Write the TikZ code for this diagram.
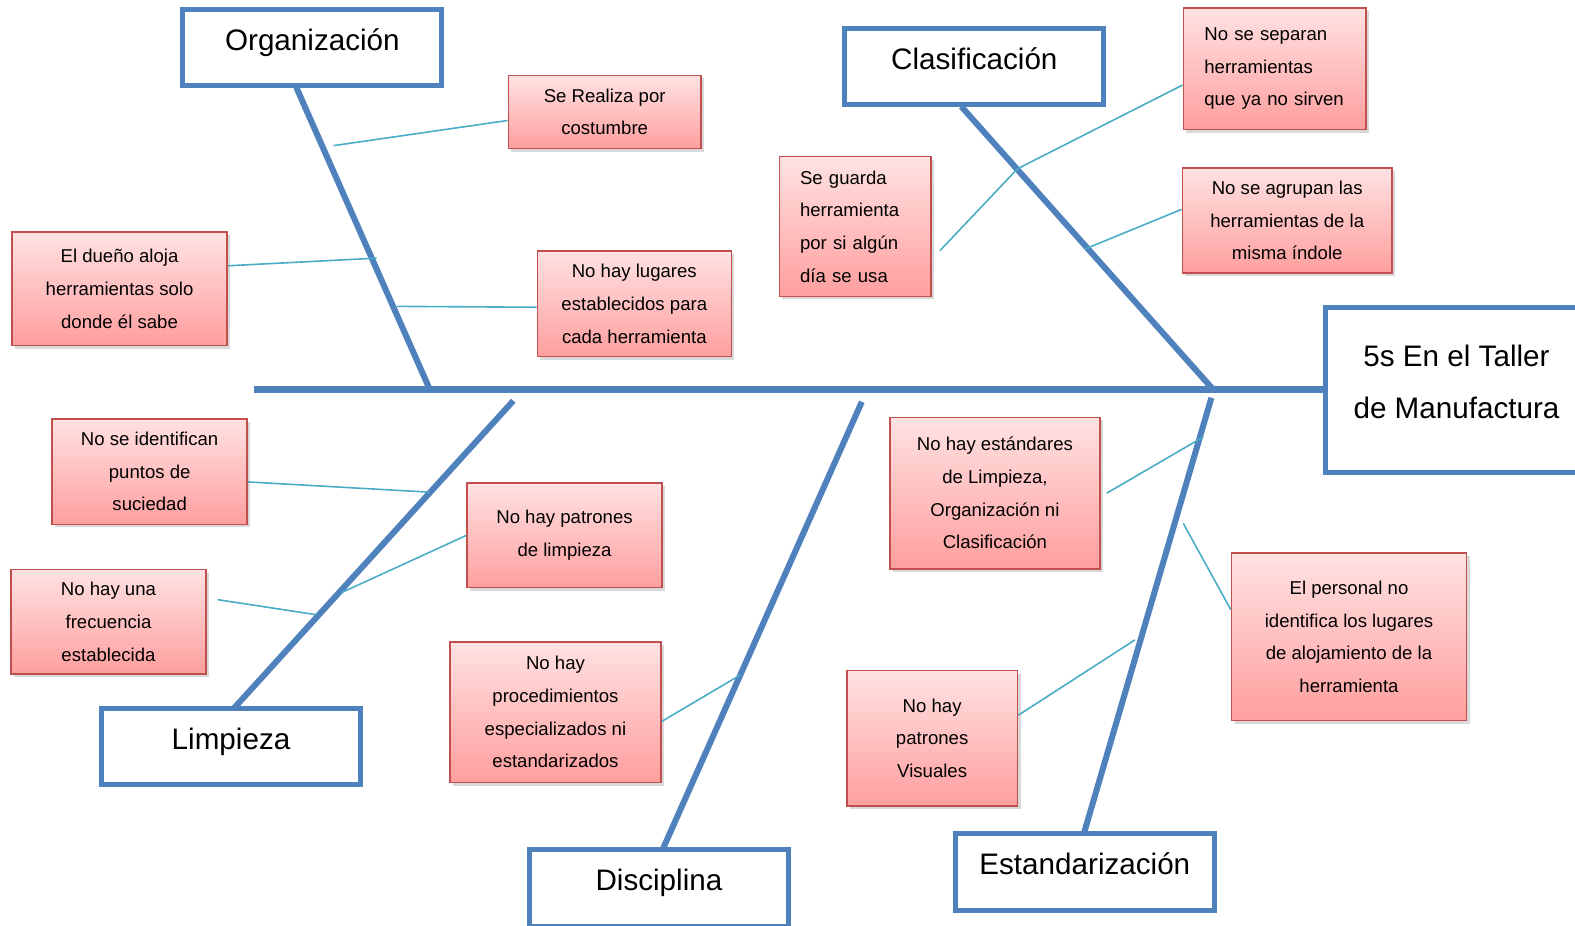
\documentclass[tikz,border=0pt]{standalone}
\usepackage{fontspec}
\setmainfont{Liberation Sans}
\usetikzlibrary{shadows}

\definecolor{boneblue}{HTML}{4F81BD}
\definecolor{twigblue}{HTML}{4BACC6}
\definecolor{causeedge}{HTML}{C0504D}
\definecolor{causetop}{HTML}{FFE2E2}
\definecolor{causebot}{HTML}{FF9E9E}

\tikzset{
  category/.style={draw=boneblue, line width=5pt, fill=white, minimum width=258pt,
    minimum height=76pt, font=\fontsize{29.5}{51}\selectfont, text depth=16pt, align=center},
  cause/.style={draw=causeedge, line width=1.5pt, top color=causetop, bottom color=causebot,
    drop shadow={opacity=0.3, shadow xshift=3pt, shadow yshift=-3pt},
    font=\fontsize{18.5}{32.5}\selectfont, align=center, inner sep=0pt},
  bone/.style={draw=boneblue, line width=6pt},
  twig/.style={draw=twigblue, line width=1.6pt},
}

\begin{document}
\begin{tikzpicture}[x=1pt, y=-1pt]
  \useasboundingbox (0,0) rectangle (1568,921);

  % head and spine
  \node[category, minimum width=260pt, minimum height=164pt] (head) at (1450,388)
    {5s En el Taller\\de Manufactura};
  \coordinate (tail) at (253,388);
  \draw[bone, line width=7pt] (tail) -- (head.west);

  % categories
  \node[category] (org)  at (311,47)  {Organización};
  \node[category] (clas) at (970,66)  {Clasificación};
  \node[category] (limp) at (230,743) {Limpieza};
  \node[category] (disc) at (656,884) {Disciplina};
  \node[category] (estd) at (1080,868) {Estandarización};

  % bones
  \coordinate (orgtop) at (295,87);  \coordinate (orgend) at (428,388);
  \coordinate (clastop) at (957,106); \coordinate (clasend) at (1208,388);
  \coordinate (limpst) at (511,399); \coordinate (limpend) at (233,705);
  \coordinate (discst) at (858,400); \coordinate (discend) at (660,845);
  \coordinate (estdst) at (1206,396); \coordinate (estdend) at (1079,830);
  \draw[bone] (orgtop) -- (orgend);
  \draw[bone] (clastop) -- (clasend);
  \draw[bone] (limpst) -- (limpend);
  \draw[bone] (discst) -- (discend);
  \draw[bone] (estdst) -- (estdend);

  % causes
  \node[cause, minimum width=192pt, minimum height=73pt] (realiza) at (602,111.5)
    {Se Realiza por\\costumbre};
  \node[cause, minimum width=214pt, minimum height=113pt] (dueno) at (119,287.5)
    {El dueño aloja\\herramientas solo\\donde él sabe};
  \node[cause, minimum width=193pt, minimum height=105pt] (lugares) at (631.5,302.5)
    {No hay lugares\\establecidos para\\cada herramienta};
  \node[cause, minimum width=182pt, minimum height=121pt, align=left, text width=140pt] (separan) at (1269,68.5)
    {No se separan\\herramientas\\que ya no sirven};
  \node[cause, minimum width=151pt, minimum height=139pt, align=left, text width=110pt] (guarda) at (851.5,225.5)
    {Se guarda\\herramienta\\por si algún\\día se usa};
  \node[cause, minimum width=209pt, minimum height=105pt] (agrupan) at (1281.5,219.5)
    {No se agrupan las\\herramientas de la\\misma índole};
  \node[cause, minimum width=194pt, minimum height=105pt] (suciedad) at (149,469.5)
    {No se identifican\\puntos de\\suciedad};
  \node[cause, minimum width=194pt, minimum height=104pt] (patlimp) at (562,533)
    {No hay patrones\\de limpieza};
  \node[cause, minimum width=194pt, minimum height=104pt] (frecuencia) at (108,619)
    {No hay una\\frecuencia\\establecida};
  \node[cause, minimum width=210pt, minimum height=140pt] (proced) at (553,709)
    {No hay\\procedimientos\\especializados ni\\estandarizados};
  \node[cause, minimum width=209pt, minimum height=151pt] (estandares) at (990.5,491)
    {No hay estándares\\de Limpieza,\\Organización ni\\Clasificación};
  \node[cause, minimum width=234pt, minimum height=167pt] (personal) at (1343,634)
    {El personal no\\identifica los lugares\\de alojamiento de la\\herramienta};
  \node[cause, minimum width=170pt, minimum height=135pt] (visuales) at (928,735)
    {No hay\\patrones\\Visuales};

  % twigs
  \coordinate (o1) at (332,145);
  \coordinate (o2) at (375,257);
  \coordinate (o3) at (395,305);
  \coordinate (c1) at (1013,168);
  \coordinate (c2) at (1080,248);
  \coordinate (l1) at (428,490);
  \coordinate (l2) at (340,590);
  \coordinate (l3) at (315,612);
  \coordinate (d1) at (737,672);
  \coordinate (e1) at (1198,435);
  \coordinate (e2) at (1178,521);
  \coordinate (e3) at (1130,637);
  \draw[twig] (o1) -- (realiza.185);
  \draw[twig] (dueno.12) -- (o2);
  \draw[twig] (o3) -- (lugares.182);
  \draw[twig] (c1) -- (separan.190);
  \draw[twig] ([xshift=8pt,yshift=-24pt]guarda.east) -- (c1);
  \draw[twig] (c2) -- (agrupan.174);
  \draw[twig] (suciedad.-6) -- (l1);
  \draw[twig] (l2) -- (patlimp.west);
  \draw[twig] ([xshift=11pt,yshift=22pt]frecuencia.east) -- (l3);
  \draw[twig] (proced.-5) -- (d1);
  \draw[twig] ([xshift=6pt]estandares.east) -- (e1);
  \draw[twig] (e2) -- (personal.167);
  \draw[twig] (visuales.15) -- (e3);
\end{tikzpicture}
\end{document}
